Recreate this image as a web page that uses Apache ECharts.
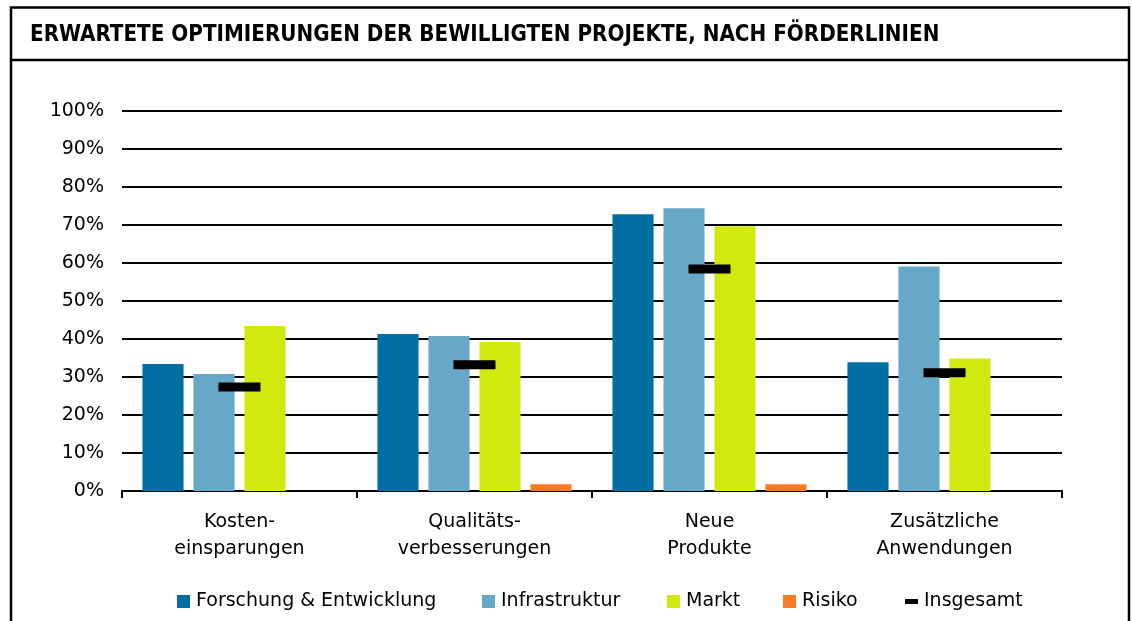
<!DOCTYPE html>
<html>
<head>
<meta charset="utf-8">
<script src="https://cdn.jsdelivr.net/npm/echarts@6/dist/echarts.min.js"></script>
<style>
  html, body { margin: 0; padding: 0; background: #fff; }
  #chart { width: 1132px; height: 621px; }
</style>
</head>
<body>
<div id="chart"></div>
<script>
// chart data
const categories = ['Kosten-\neinsparungen', 'Qualitäts-\nverbesserungen', 'Neue\nProdukte', 'Zusätzliche\nAnwendungen'];
const forschung = [33.4, 41.3, 72.8, 33.9];
const infrastruktur = [30.8, 40.8, 74.4, 59.1];
const markt = [43.4, 39.2, 69.7, 34.9];
const risiko = [0, 1.8, 1.8, 0];
const insgesamt = [27.4, 33.2, 58.4, 31.1];
const yTicks = [0, 10, 20, 30, 40, 50, 60, 70, 80, 90, 100];

const condensed = '"DejaVu Sans Condensed", "DejaVu Sans", sans-serif';
const plain = '"DejaVu Sans", sans-serif';

const chart = echarts.init(document.getElementById('chart'));

function bar(name, data, color) {
  return {
    name: name,
    type: 'bar',
    data: data,
    itemStyle: { color: color },
    barGap: '24%',
    barCategoryGap: '17.4%'
  };
}

// one legend block per entry so each sits where the original puts it
function legendAt(name, left, isDash) {
  return {
    data: [name],
    left: left,
    top: 592,
    padding: 0,
    icon: 'rect',
    itemWidth: 13,
    itemHeight: isDash ? 5 : 13,
    itemGap: 0,
    textStyle: { fontFamily: plain, fontSize: 19, color: '#000', padding: [0, 0, 0, 1] }
  };
}

chart.setOption({
  animation: false,
  title: {
    text: 'ERWARTETE OPTIMIERUNGEN DER BEWILLIGTEN PROJEKTE, NACH FÖRDERLINIEN',
    left: 30,
    top: 24,
    padding: 0,
    textStyle: { fontFamily: condensed, fontWeight: 'bold', fontSize: 22.2, color: '#000' }
  },
  graphic: [
    { type: 'rect', shape: { x: 11, y: 7.5, width: 1118, height: 700 },
      style: { fill: 'none', stroke: '#000', lineWidth: 2.5 } },
    { type: 'line', shape: { x1: 11, y1: 60, x2: 1129, y2: 60 },
      style: { stroke: '#000', lineWidth: 2.5 } }
  ],
  grid: { left: 122, right: 70, top: 111, bottom: 130 },
  legend: [
    legendAt('Forschung & Entwicklung', 177),
    legendAt('Infrastruktur', 482),
    legendAt('Markt', 667),
    legendAt('Risiko', 783),
    legendAt('Insgesamt', 905, true)
  ],
  xAxis: {
    type: 'category',
    data: categories,
    axisLine: { lineStyle: { color: '#000', width: 2 } },
    axisTick: { show: true, length: 7, lineStyle: { color: '#000', width: 2 } },
    axisLabel: { fontFamily: plain, fontSize: 19, color: '#000', lineHeight: 27, margin: 18 }
  },
  yAxis: {
    type: 'value',
    min: yTicks[0],
    max: yTicks[yTicks.length - 1],
    interval: 10,
    axisLine: { show: false },
    axisTick: { show: false },
    axisLabel: { formatter: '{value}%', fontFamily: plain, fontSize: 19, color: '#000', margin: 18 },
    splitLine: { lineStyle: { color: '#000', width: 2 } }
  },
  series: [
    bar('Forschung & Entwicklung', forschung, '#036ea2'),
    bar('Infrastruktur', infrastruktur, '#67a8c8'),
    bar('Markt', markt, '#d1e90e'),
    bar('Risiko', risiko, '#fb7a23'),
    {
      name: 'Insgesamt',
      type: 'scatter',
      data: insgesamt,
      symbol: 'rect',
      symbolSize: [42, 9],
      itemStyle: { color: '#000', opacity: 1 },
      z: 5
    }
  ]
});
</script>
</body>
</html>
